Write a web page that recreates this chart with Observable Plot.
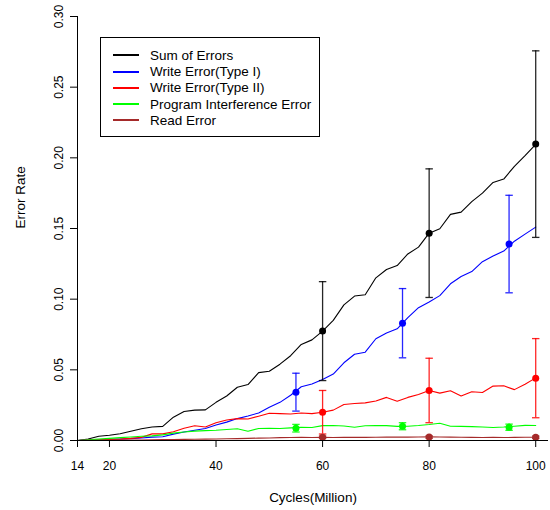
<!DOCTYPE html>
<html><head><meta charset="utf-8">
<script src="https://cdn.jsdelivr.net/npm/d3@7"></script>
<script src="https://cdn.jsdelivr.net/npm/@observablehq/plot@0.6"></script>
<style>
body{margin:0;background:#fff;font-family:"Liberation Sans",Arial,sans-serif;}
#wrap{position:relative;width:550px;height:510px;}
#legend{position:absolute;left:100px;top:37px;width:220px;height:100px;border:1px solid #000;box-sizing:border-box;background:#fff;}
.row{position:absolute;left:12px;height:16px;display:flex;align-items:center;font-size:13.5px;color:#000;white-space:nowrap;}
.sw{width:26px;height:0;border-top:2px solid;margin-right:11px;}
</style></head>
<body>
<div id="wrap"></div>
<script>
const cycles = [14,16,18,20,22,24,26,28,30,32,34,36,38,40,42,44,46,48,50,52,54,56,58,60,62,64,66,68,70,72,74,76,78,80,82,84,86,88,90,92,94,96,98,100];
const sumErr  = [0,0.001,0.003,0.0037,0.0048,0.0065,0.0083,0.0095,0.0100,0.0165,0.0205,0.0215,0.0217,0.027,0.0315,0.0377,0.0396,0.048,0.049,0.054,0.060,0.068,0.0712,0.0774,0.085,0.096,0.1022,0.1031,0.1151,0.121,0.1238,0.132,0.1368,0.1467,0.1498,0.160,0.1616,0.169,0.175,0.1826,0.185,0.194,0.2015,0.2095];
const writeI  = [0,0.0003,0.0005,0.0008,0.001,0.0013,0.0018,0.0024,0.0027,0.0045,0.0060,0.0072,0.0085,0.0110,0.0130,0.0155,0.0173,0.0195,0.0235,0.027,0.032,0.038,0.040,0.0432,0.047,0.055,0.061,0.0625,0.072,0.076,0.079,0.087,0.094,0.098,0.1025,0.1109,0.116,0.1195,0.1265,0.1305,0.134,0.141,0.146,0.151];
const writeII = [0,0.0003,0.0005,0.0007,0.001,0.0015,0.0022,0.0047,0.0047,0.0062,0.0087,0.0104,0.0095,0.0125,0.0145,0.0155,0.0152,0.0172,0.0193,0.019,0.0188,0.0195,0.019,0.020,0.0215,0.0255,0.0262,0.0266,0.028,0.0305,0.0278,0.0305,0.0326,0.0354,0.0335,0.0352,0.0315,0.0345,0.034,0.0385,0.0387,0.036,0.0398,0.0443];
const progInt = [0,0.0005,0.001,0.0015,0.002,0.0025,0.003,0.0033,0.004,0.0052,0.006,0.0066,0.007,0.0072,0.0078,0.0083,0.0066,0.0085,0.0087,0.0085,0.0089,0.0094,0.0092,0.0105,0.0106,0.0103,0.0094,0.0104,0.0106,0.0105,0.0100,0.0101,0.0106,0.0113,0.0122,0.0101,0.0100,0.0098,0.0095,0.0092,0.0095,0.0101,0.0107,0.0106];
const readErr = [0,0.0001,0.0002,0.0003,0.0003,0.0004,0.0004,0.0005,0.0006,0.0007,0.0008,0.0009,0.001,0.0011,0.0012,0.0013,0.0015,0.0017,0.0018,0.002,0.0021,0.0022,0.0021,0.0022,0.0021,0.0022,0.0023,0.0022,0.0023,0.0024,0.0025,0.0024,0.0025,0.0026,0.0025,0.0024,0.0023,0.0022,0.0021,0.0022,0.0021,0.0022,0.0023,0.0023];

const seriesNames  = ["Sum of Errors","Write Error(Type I)","Write Error(Type II)","Program Interference Error","Read Error"];
const seriesColors = ["#000000","#0000ff","#ff0000","#00ff00","#a52a2a"];
const seriesValues = [sumErr, writeI, writeII, progInt, readErr];

// error bars
const barSeries = [0,0,0, 1,1,1, 2,2,2, 3,3,3, 4,4,4];
const barX      = [60,80,100, 55,75,95, 60,80,100, 55,75,95, 60,80,100];
const barY      = [0.0774,0.1467,0.2097, 0.0342,0.083,0.139, 0.020,0.0354,0.0441, 0.0087,0.0101,0.0094, 0.0023,0.0024,0.0023];
const barErr    = [0.035,0.0455,0.066, 0.0134,0.0245,0.0345, 0.0154,0.0228,0.028, 0.0027,0.0025,0.0022, 0.0008,0.0008,0.0008];

const xTicks = [14,20,40,60,80,100];
const yTicks = [0,0.05,0.10,0.15,0.20,0.25,0.30];

const bars = barX.map((x,i)=>({x, y:barY[i], e:barErr[i], color:seriesColors[barSeries[i]]}));
const capHalf = 0.7;

const lineMarks = seriesValues.map((vals,k)=>
  Plot.line(cycles.map((c,i)=>({x:c,y:vals[i]})), {x:"x", y:"y", stroke:seriesColors[k], strokeWidth:1.1})
);

const chart = Plot.plot({
  width:550, height:510,
  marginLeft:77, marginRight:2, marginTop:16, marginBottom:70,
  x:{domain:[14,102.4]},
  y:{domain:[0,0.30]},
  style:{fontFamily:"'Liberation Sans', Arial, sans-serif", fontSize:"12px", background:"white", color:"#000"},
  marks:[
    ...lineMarks,
    Plot.ruleX(bars, {x:"x", y1:d=>d.y-d.e, y2:d=>d.y+d.e, stroke:d=>d.color, strokeWidth:1.3, strokeOpacity:0.85}),
    Plot.link(bars, {x1:d=>d.x-capHalf, x2:d=>d.x+capHalf, y1:d=>d.y+d.e, y2:d=>d.y+d.e, stroke:d=>d.color, strokeWidth:1.3, strokeOpacity:0.85}),
    Plot.link(bars, {x1:d=>d.x-capHalf, x2:d=>d.x+capHalf, y1:d=>d.y-d.e, y2:d=>d.y-d.e, stroke:d=>d.color, strokeWidth:1.3, strokeOpacity:0.85}),
    Plot.dot(bars, {x:"x", y:"y", r:3.5, fill:d=>d.color, stroke:"none"}),
    Plot.ruleY([0], {stroke:"#000", strokeWidth:1}),
    Plot.ruleX([14], {stroke:"#000", strokeWidth:1}),
    Plot.axisX({ticks:xTicks, tickFormat:d=>String(d), tickSize:7, tickPadding:14, fontSize:12, label:null}),
    Plot.axisY({ticks:yTicks, tickFormat:d3.format(".2f"), tickRotate:-90, tickSize:7, tickPadding:8, fontSize:12, label:null}),
    Plot.text(["Cycles(Million)"], {frameAnchor:"bottom", dy:57, fontSize:13.5, lineAnchor:"middle"}),
    Plot.text(["Error Rate"], {frameAnchor:"left", dx:-57, rotate:-90, fontSize:13.5, lineAnchor:"middle"})
  ]
});
// make x/y scale colors identity
const wrap = document.getElementById("wrap");
wrap.appendChild(chart);

const legend = document.createElement("div");
legend.id = "legend";
const tops = [9.3, 25.7, 41.7, 58.3, 74.3];
seriesNames.forEach((n,i)=>{
  const r = document.createElement("div");
  r.className = "row";
  r.style.top = tops[i] + "px";
  const sw = document.createElement("div");
  sw.className = "sw";
  sw.style.borderTopColor = seriesColors[i];
  const t = document.createElement("span");
  t.textContent = n;
  r.appendChild(sw); r.appendChild(t);
  legend.appendChild(r);
});
wrap.appendChild(legend);
</script>
</body></html>
